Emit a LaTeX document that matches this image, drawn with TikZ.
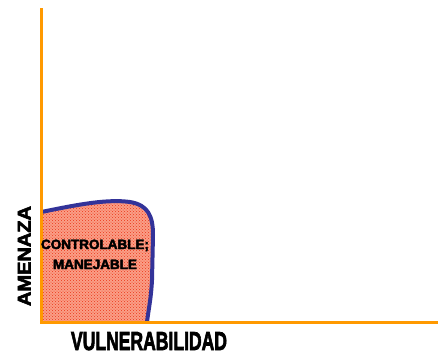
\documentclass[tikz,border=0pt]{standalone}
\usepackage{fontspec}
\setmainfont{Liberation Sans}
\newfontfamily\heavyfont[FakeBold=3]{Liberation Sans Bold}
\usetikzlibrary{patterns}
\definecolor{axisorange}{RGB}{255,153,0}
\definecolor{outlineblue}{RGB}{51,51,153}
\definecolor{fillbase}{RGB}{250,158,135}
\definecolor{fillhatch}{RGB}{235,55,25}
\begin{document}
\begin{tikzpicture}[x=1pt,y=-1pt,
  axisline/.style={draw=axisorange,line width=3pt},
  zoneline/.style={draw=outlineblue,line width=4pt,line join=round},
  zonetext/.style={font=\heavyfont\fontsize{13.5}{14}\selectfont,inner sep=0pt,anchor=base},
  axistext/.style={inner sep=0pt,anchor=base}]
\useasboundingbox (0,0) rectangle (438,354);
\coordinate (O) at (41.5,322.5);
\coordinate (Ytop) at (41.5,8);
\coordinate (Xend) at (438,322.5);
% filled zone
\fill[fillbase] (41.5,212) .. controls (80,204) and (108,199) .. (130,202)
  .. controls (148,205) and (153,216) .. (153,235)
  -- (152,280) .. controls (151,300) and (148,312) .. (147,322.5) -- (O) -- cycle;
\fill[pattern=crosshatch dots,pattern color=fillhatch] (41.5,212) .. controls (80,204) and (108,199) .. (130,202)
  .. controls (148,205) and (153,216) .. (153,235)
  -- (152,280) .. controls (151,300) and (148,312) .. (147,322.5) -- (O) -- cycle;
\draw[zoneline] (41.5,212) .. controls (80,204) and (108,199) .. (130,202)
  .. controls (148,205) and (153,216) .. (153,235)
  -- (152,280) .. controls (151,300) and (148,312) .. (147,322.5);
% axes
\draw[axisline] (Ytop) -- (O) -- (Xend);
% labels
\node[zonetext] (t1) at (95,249) {CONTROLABLE;};
\node[zonetext] (t2) at (95,269) {MANEJABLE};
\node[axistext,font=\heavyfont\fontsize{26}{28}\selectfont,xscale=0.675] (xl) at (149,350) {VULNERABILIDAD};
\node[axistext,font=\heavyfont\fontsize{20}{22}\selectfont,rotate=90,yscale=0.92] (yl) at (30.5,256) {AMENAZA};
\end{tikzpicture}
\end{document}
